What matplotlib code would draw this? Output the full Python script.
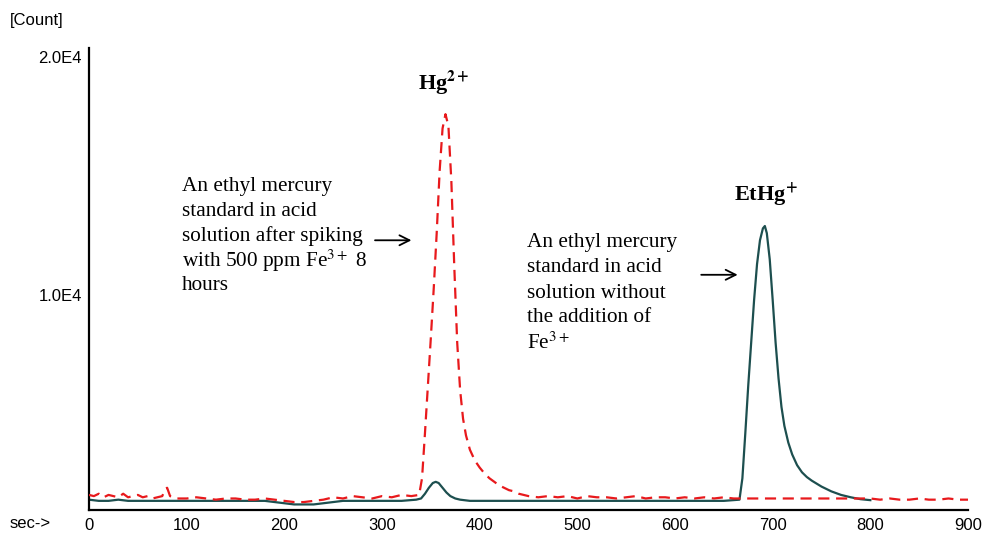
import matplotlib
matplotlib.use("Agg")
import matplotlib.pyplot as plt

plt.rcParams['mathtext.fontset'] = 'stix'

# Fe3+ spiked sample (red dashed) : time [s], counts
red_t = [0, 5, 10, 15, 20, 25, 30, 35, 40, 45, 50, 55, 60, 65, 70, 75, 78, 80, 83, 86, 90,
         100, 110, 120, 130, 140, 150, 160, 170, 180, 190, 200, 210, 220, 230, 240,
         250, 260, 270, 280, 290, 300, 310, 320, 330, 338,
         341, 344, 347, 350, 353, 356, 359, 362, 365, 368, 371, 374, 377, 380, 383, 386,
         390, 395, 400, 405, 410, 415, 420, 425, 430, 435, 440, 445, 450,
         460, 470, 480, 490, 500, 510, 520, 530, 540, 550, 560, 570, 580, 590, 600,
         610, 620, 630, 640, 650, 660, 700, 750, 790, 800, 810, 820, 830, 840, 850,
         860, 870, 880, 890, 900]
red_c = [1600, 1550, 1650, 1500, 1600, 1550, 1500, 1650, 1500, 1550, 1600, 1500, 1550, 1450, 1500, 1550, 1850, 1900, 1550, 1500, 1450,
         1450, 1500, 1450, 1400, 1450, 1450, 1400, 1400, 1450, 1400, 1350, 1300, 1300, 1350, 1400,
         1500, 1450, 1550, 1500, 1450, 1550, 1500, 1600, 1550, 1600,
         2300, 4200, 6200, 8200, 10300, 12600, 15200, 17000, 17600, 17100, 14800, 11200, 8000, 6000, 4800, 4100,
         3500, 3050, 2750, 2500, 2300, 2150, 2000, 1900, 1800, 1750, 1650, 1600, 1550,
         1500, 1550, 1500, 1550, 1450, 1550, 1500, 1500, 1450, 1500, 1550, 1450, 1500, 1500, 1450,
         1500, 1450, 1500, 1450, 1500, 1450, 1450, 1450, 1450, 1450, 1400, 1450, 1400, 1400, 1450,
         1400, 1400, 1450, 1400, 1400]

# EtHg standard without Fe3+ (dark teal solid) : time [s], counts
teal_t = [0, 10, 20, 30, 40, 50, 60, 70, 80, 90, 100, 120, 140, 160, 180, 190, 200, 210, 220, 230, 240, 250,
          260, 280, 300, 320, 335, 340, 344, 348, 352, 355, 358, 362, 366, 370, 375, 380, 390,
          400, 450, 500, 550, 600, 650, 666, 669, 672, 675, 678, 681, 684, 687, 690, 692, 694, 697,
          700, 703, 706, 709, 712, 716, 720, 725, 730, 735, 740, 750, 760, 770, 780, 790, 800]
teal_c = [1400, 1350, 1350, 1400, 1350, 1350, 1350, 1350, 1350, 1350, 1350, 1350, 1350, 1350, 1350, 1300, 1250, 1200, 1200, 1200, 1250, 1300,
          1350, 1350, 1350, 1350, 1400, 1450, 1650, 1900, 2100, 2150, 2100, 1900, 1700, 1550, 1450, 1400, 1350,
          1350, 1350, 1350, 1350, 1350, 1350, 1400, 2300, 4200, 6200, 8000, 9800, 11300, 12300, 12800, 12900, 12600, 11500,
          9800, 8000, 6500, 5300, 4500, 3800, 3300, 2850, 2550, 2350, 2200, 1950, 1750, 1600, 1500, 1420, 1380]

x_ticks = [0, 100, 200, 300, 400, 500, 600, 700, 800, 900]
y_ticks = [10000, 20000]
y_tick_labels = ['1.0E4', '2.0E4']

note_left = ['An ethyl mercury', 'standard in acid', 'solution after spiking',
             'with 500 ppm Fe$^{3+}$ 8', 'hours']
note_right = ['An ethyl mercury', 'standard in acid', 'solution without',
              'the addition of', 'Fe$^{3+}$']

W, H = 988, 537
fig = plt.figure(figsize=(W/100, H/100), dpi=100)
ax = fig.add_axes([89/W, 1 - 510/H, (968-89)/W, (510-48)/H])

ax.plot(teal_t, teal_c, color='#1d4f4f', lw=1.6, zorder=2)
ax.plot(red_t, red_c, color='#e8191c', lw=1.6, ls=(0, (5, 3)), zorder=3)

ax.set_xlim(0, 900)
ax.set_ylim(966, 20380)
ax.set_xticks(x_ticks)
ax.set_xticklabels([str(v) for v in x_ticks])
ax.set_yticks(y_ticks)
ax.set_yticklabels(y_tick_labels)
ax.tick_params(length=0, labelsize=12, pad=5)
for lab in ax.get_xticklabels() + ax.get_yticklabels():
    lab.set_fontfamily('Liberation Sans')
ax.tick_params(axis='x', pad=6)
ax.spines['top'].set_visible(False)
ax.spines['right'].set_visible(False)
ax.spines['left'].set_linewidth(1.6)
ax.spines['bottom'].set_linewidth(1.6)

fig.text(10/W, 1 - 20/H, '[Count]', fontsize=12, family='Liberation Sans', va='center', ha='left')
fig.text(10/W, 1 - 523/H, 'sec->', fontsize=12, family='Liberation Sans', va='center', ha='left')

serif = 'Liberation Serif'
ax.text(363, 18900, r'Hg$^{\mathbf{2+}}$', fontsize=16, family=serif, fontweight='bold', ha='center', va='center')
ax.text(693, 14230, r'EtHg$^{\mathbf{+}}$', fontsize=16, family=serif, fontweight='bold', ha='center', va='center')

for i, line in enumerate(note_left):
    fig.text(182/W, 1 - (186 + 25*i)/H, line, fontsize=15.3, family=serif, ha='left', va='center')
for i, line in enumerate(note_right):
    fig.text(527/W, 1 - (243 + 25*i)/H, line, fontsize=15.3, family=serif, ha='left', va='center')

ax.annotate('', xy=(333, 12300), xytext=(290, 12300),
            arrowprops=dict(arrowstyle='->', lw=1.3, color='black', mutation_scale=18))
ax.annotate('', xy=(667, 10850), xytext=(624, 10850),
            arrowprops=dict(arrowstyle='->', lw=1.3, color='black', mutation_scale=18))

fig.savefig('out.png', dpi=100)
